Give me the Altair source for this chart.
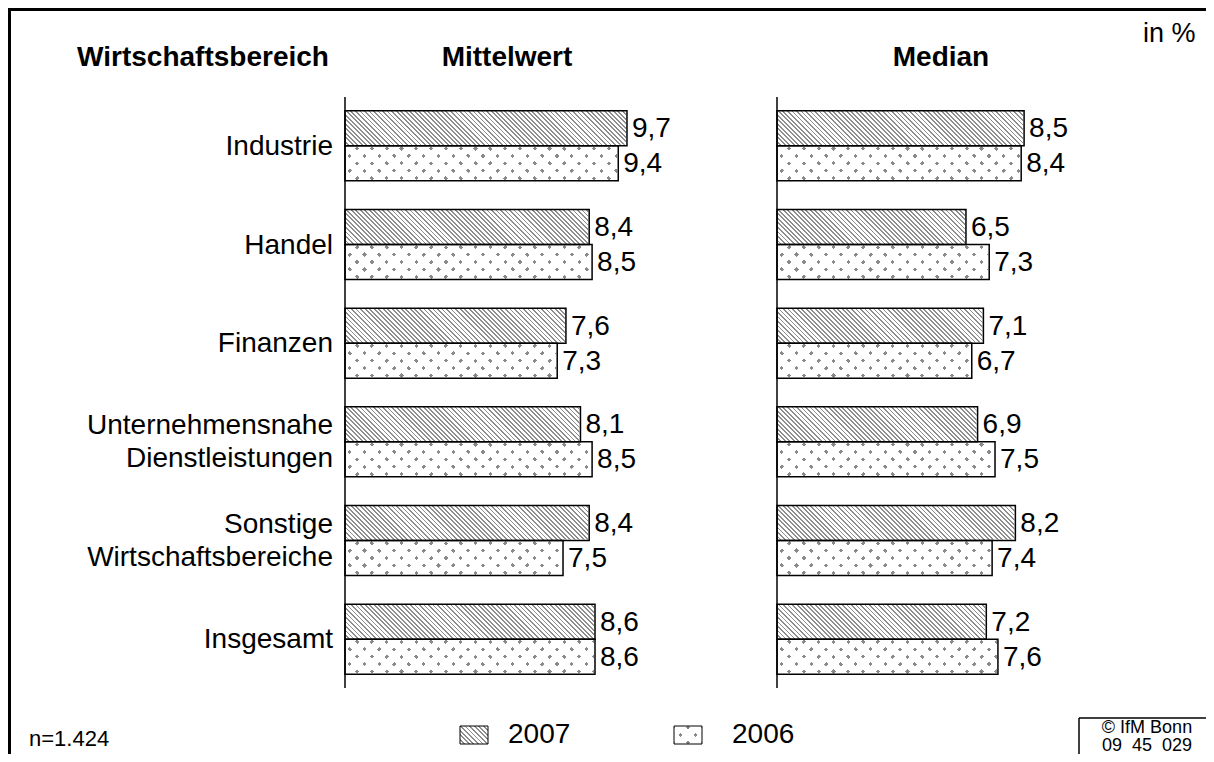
import math
import altair as alt
import pandas as pd

# ---------------- data ----------------
categories = ["Industrie", "Handel", "Finanzen", "Unternehmensnahe Dienstleistungen",
              "Sonstige Wirtschaftsbereiche", "Insgesamt"]
series = ["2007", "2006"]
mittel_2007 = [9.7, 8.4, 7.6, 8.1, 8.4, 8.6]
mittel_2006 = [9.4, 8.5, 7.3, 8.5, 7.5, 8.6]
median_2007 = [8.5, 6.5, 7.1, 6.9, 8.2, 7.2]
median_2006 = [8.4, 7.3, 6.7, 7.5, 7.4, 7.6]

def make_df(v07, v06):
    rows = []
    for c, a, b in zip(categories, v07, v06):
        rows.append({"cat": c, "series": "2007", "value": a})
        rows.append({"cat": c, "series": "2006", "value": b})
    return pd.DataFrame(rows)

df_mittel = make_df(mittel_2007, mittel_2006)
df_median = make_df(median_2007, median_2006)
df_cats = pd.DataFrame({"cat": categories})

# ---------------- layout constants ----------------
FONT = "Liberation Sans"
FS = 28
W_TOTAL, H_TOTAL = 1198, 746
PX_PER_UNIT = 29.07
XMAX = 10
PANEL_W = PX_PER_UNIT * XMAX
X0_MITTEL = 337
X0_MEDIAN = 769
Y0, Y1 = 89, 680
PI, PO = 0.29, 0.14
step = (Y1 - Y0) / (len(categories) - PI + 2 * PO)
BAR_H = step * (1 - PI) / 2
LINE_H = 33


def diag_gradient(W, H, spacing, line_w, line_color, bg_color, direction):
    b = H / W
    lam = (1 + b) / (1 + b * b)
    if direction == "/":
        x1, y1, x2, y2 = 0, 0, lam, lam * b
    else:
        x1, y1, x2, y2 = 0, 1, lam, 1 - lam * b
    L = (W + H) / math.sqrt(2)
    n = max(1, int(round(L / spacing)))
    hw = line_w / 2 / L
    stops = []

    def add(o, c):
        o = min(max(o, 0.0), 1.0)
        stops.append({"offset": round(o, 6), "color": c})

    for k in range(n + 1):
        c = k / n
        add(c - hw, bg_color)
        add(c - hw, line_color)
        add(c + hw, line_color)
        add(c + hw, bg_color)
    return {"gradient": "linear", "x1": x1, "y1": y1, "x2": x2, "y2": y2, "stops": stops}


CLEAR = "rgba(255,255,255,0)"
HATCH_LINE = "#8e8e8e"
DOT_COLOR = "#8a8a8a"

def hatch(W, H):
    return diag_gradient(W, H, 3.2, 1.25, HATCH_LINE, "white", "\\")

def dot_base(W, H):
    return diag_gradient(W, H, 10.5, 3.0, DOT_COLOR, "white", "/")

def dot_mask(W, H):
    return diag_gradient(W, H, 10.5, 3.0, CLEAR, "white", "\\")


yscale = alt.Scale(domain=categories, range=[Y0, Y1], paddingInner=PI, paddingOuter=PO)
Yenc = alt.Y("cat:N", scale=yscale, axis=None)
YOff = alt.YOffset("series:N", scale=alt.Scale(domain=series, paddingInner=0, paddingOuter=0))


def panel(df, x0):
    xscale = alt.Scale(domain=[0, XMAX], range=[x0, x0 + PANEL_W])
    base = alt.Chart(df).transform_calculate(
        zero="0", ten=str(XMAX),
        label="replace(format(datum.value, '.1f'), '.', ',')"
    ).encode(y=Yenc, yOffset=YOff)
    X = lambda f: alt.X(f, scale=xscale, axis=None)

    bg07 = base.transform_filter("datum.series == '2007'").mark_rect(
        fill=hatch(PANEL_W, BAR_H)).encode(x=X("zero:Q"), x2="ten:Q")
    bg06a = base.transform_filter("datum.series == '2006'").mark_rect(
        fill=dot_base(PANEL_W, BAR_H)).encode(x=X("zero:Q"), x2="ten:Q")
    bg06b = base.transform_filter("datum.series == '2006'").mark_rect(
        fill=dot_mask(PANEL_W, BAR_H)).encode(x=X("zero:Q"), x2="ten:Q")
    cover = base.mark_rect(fill="white", stroke="white", strokeWidth=2).encode(
        x=X("value:Q"), x2="ten:Q")
    outline = base.mark_rect(fill="white", fillOpacity=0, stroke="black",
                             strokeWidth=1.5).encode(x=X("zero:Q"), x2="value:Q")
    labels = base.mark_text(align="left", baseline="middle", dx=5, dy=1,
                            fontSize=FS, font=FONT, color="black").encode(
        x=X("value:Q"), text="label:N")
    axis_line = alt.Chart(alt.Data(values=[{"zero": 0}])).mark_rule(
        stroke="black", strokeWidth=1.5).encode(
        x=X("zero:Q"), y=alt.value(Y0), y2=alt.value(Y1))
    return alt.layer(bg07, bg06a, bg06b, cover, outline, labels, axis_line)


one = alt.Data(values=[{}])

def txt(s, x, y, size=FS, weight="normal", align="center", baseline="middle"):
    return alt.Chart(one).mark_text(text=s, fontSize=size, fontWeight=weight, align=align,
                                    baseline=baseline, font=FONT, color="black").encode(
        x=alt.value(x), y=alt.value(y))

def rule(x, x2, y, y2, w):
    return alt.Chart(one).mark_rule(stroke="black", strokeWidth=w).encode(
        x=alt.value(x), x2=alt.value(x2), y=alt.value(y), y2=alt.value(y2))

def box(x, x2, y, y2, fill, stroke=True):
    kw = dict(fill=fill)
    if stroke:
        kw.update(stroke="black", strokeWidth=1)
    return alt.Chart(one).mark_rect(**kw).encode(
        x=alt.value(x), x2=alt.value(x2), y=alt.value(y), y2=alt.value(y2))

cat_base = alt.Chart(df_cats).transform_calculate(
    lines="split(datum.cat, ' ')"
).encode(y=Yenc, x=alt.value(325), text="lines:N")
cat_single = cat_base.transform_filter("indexof(datum.cat, ' ') < 0").mark_text(
    align="right", baseline="middle", fontSize=FS, font=FONT, color="black", dy=1)
cat_double = cat_base.transform_filter("indexof(datum.cat, ' ') >= 0").mark_text(
    align="right", baseline="middle", fontSize=FS, lineHeight=LINE_H, font=FONT,
    color="black", dy=1 - LINE_H / 2)

# legend swatches
LW, LH = 28, 18
leg_x07, leg_x06, leg_y = 452, 666, 718
legend = [
    box(leg_x07, leg_x07 + LW, leg_y, leg_y + LH, hatch(LW, LH), stroke=False),
    box(leg_x07, leg_x07 + LW, leg_y, leg_y + LH, "transparent"),
    box(leg_x06, leg_x06 + LW, leg_y, leg_y + LH, dot_base(LW, LH), stroke=False),
    box(leg_x06, leg_x06 + LW, leg_y, leg_y + LH, dot_mask(LW, LH)),
    txt("2007", 500, 727, align="left"),
    txt("2006", 724, 727, align="left"),
]

NB = "\u00a0"
texts = [
    txt("Wirtschaftsbereich", 195, 50, weight="bold"),
    txt("Mittelwert", 499, 50, weight="bold"),
    txt("Median", 933, 50, weight="bold"),
    txt("in %", 1135, 26, size=27, align="left"),
    txt("n=1.424", 21, 731, size=22, align="left"),
    txt("© IfM Bonn", 1139, 720, size=18),
    txt("09" + NB * 2 + "45" + NB * 2 + "029", 1139, 738, size=18),
]

frame = [
    rule(0, W_TOTAL, 1.5, 1.5, 3),
    rule(1.5, 1.5, 0, H_TOTAL, 3),
    rule(1071, W_TOTAL, 710, 710, 1.5),
    rule(1071, 1071, 710, H_TOTAL, 1.5),
]

chart = alt.layer(
    *frame,
    panel(df_mittel, X0_MITTEL),
    panel(df_median, X0_MEDIAN),
    cat_single,
    cat_double,
    *legend,
    *texts,
).resolve_scale(x="independent").properties(
    width=W_TOTAL, height=H_TOTAL, padding=0,
    autosize=alt.AutoSizeParams(type="none"),
).configure_view(strokeWidth=0)

chart.save("out.html", embed_options={"renderer": "svg", "actions": False})
